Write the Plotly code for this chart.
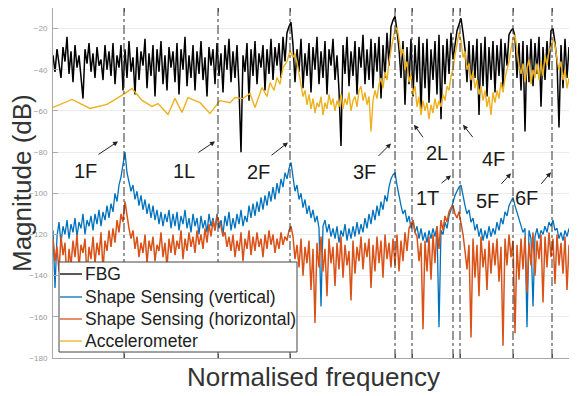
import numpy as np
import plotly.graph_objects as go

# ---------------- data ----------------
SERIES_NAMES = ["FBG", "Shape Sensing (vertical)", "Shape Sensing (horizontal)", "Accelerometer"]
BIN_STEP = 2  # spacing of the spectral bins (normalised frequency units)

FBG_DB = [
    -33, -41, -30, -38, -44, -29, -36, -24, -42, -31,
    -46, -28, -39, -33, -43, -54, -30, -37, -27, -41,
    -32, -44, -29, -38, -35, -45, -28, -40, -31, -43,
    -27, -47, -33, -39, -28, -50, -30, -44, -26, -41,
    -34, -52, -29, -45, -31, -38, -25, -49, -32, -43,
    -28, -53, -30, -41, -26, -47, -33, -50, -29, -39,
    -31, -46, -27, -52, -30, -40, -24, -48, -33, -44,
    -28, -50, -31, -42, -26, -45, -34, -53, -29, -38,
    -30, -47, -27, -43, -32, -51, -28, -40, -25, -46,
    -31, -44, -28, -49, -80, -33, -41, -27, -55, -30,
    -43, -26, -47, -32, -39, -28, -50, -30, -42, -25,
    -45, -29, -38, -27, -44, -24, -36, -22, -19, -17,
    -28, -46, -30, -41, -25, -49, -32, -43, -27, -51,
    -29, -40, -24, -47, -31, -44, -26, -52, -30, -38,
    -25, -45, -33, -50, -77, -28, -42, -24, -48, -31,
    -43, -26, -52, -29, -39, -23, -47, -30, -45, -25,
    -49, -27, -41, -24, -54, -28, -44, -22, -38, -19,
    -16, -14, -21, -30, -44, -26, -57, -29, -47, -25,
    -53, -28, -46, -24, -61, -27, -49, -25, -56, -30,
    -45, -26, -52, -23, -64, -28, -47, -25, -42, -22,
    -35, -27, -21, -18, -15, -22, -30, -46, -26, -50,
    -28, -44, -25, -62, -27, -48, -24, -53, -29, -45,
    -26, -51, -28, -43, -25, -49, -27, -38, -23, -21,
    -20, -24, -44, -27, -50, -26, -70, -28, -46, -25,
    -48, -27, -42, -24, -58, -29, -45, -26, -40, -21,
    -20, -27, -36, -68, -28, -49, -25, -44, -29, -47,
    -26, -43,
]

SSV_DB = [
    -118, -146, -121, -114, -124, -116, -120, -113, -122, -115,
    -119, -112, -121, -114, -117, -110, -120, -113, -116, -111,
    -118, -110, -115, -108, -116, -109, -113, -106, -112, -105,
    -109, -100, -104, -96, -92, -86, -80, -90, -94, -99,
    -96, -103, -99, -106, -101, -108, -103, -110, -105, -112,
    -106, -113, -108, -115, -109, -116, -110, -114, -108, -117,
    -110, -116, -109, -118, -111, -115, -108, -117, -112, -119,
    -110, -116, -112, -120, -111, -117, -113, -119, -110, -116,
    -112, -118, -110, -117, -113, -120, -111, -116, -109, -118,
    -112, -117, -110, -115, -108, -116, -111, -114, -106, -112,
    -105, -111, -104, -109, -102, -108, -101, -106, -99, -104,
    -97, -103, -95, -100, -93, -97, -90, -93, -88, -85,
    -92, -99, -96, -103, -100, -107, -103, -110, -106, -112,
    -108, -114, -111, -117, -155, -116, -113, -119, -115, -121,
    -117, -122, -116, -124, -118, -121, -115, -123, -117, -122,
    -116, -121, -114, -120, -115, -119, -112, -117, -110, -115,
    -108, -113, -106, -111, -104, -108, -101, -104, -97, -93,
    -91, -90, -96, -102, -106, -110, -108, -114, -111, -117,
    -113, -119, -116, -122, -117, -123, -119, -124, -118, -122,
    -117, -121, -116, -165, -118, -120, -114, -117, -111, -108,
    -104, -101, -99, -97, -96, -102, -106, -110, -108, -114,
    -112, -118, -115, -121, -117, -123, -118, -122, -116, -121,
    -117, -120, -114, -118, -112, -115, -109, -111, -106, -104,
    -102, -106, -109, -113, -116, -119, -117, -165, -118, -122,
    -155, -121, -117, -122, -118, -120, -116, -119, -114, -116,
    -113, -118, -117, -122, -119, -123, -118, -121, -117, -122,
    -119, -150,
]

SSH_DB = [
    -122, -133, -126, -138, -121, -130, -124, -144, -127, -135,
    -123, -131, -120, -136, -125, -129, -122, -140, -126, -132,
    -121, -134, -124, -130, -119, -137, -123, -128, -118, -126,
    -117, -124, -113, -119, -110, -114, -104, -112, -117, -122,
    -118, -127, -121, -131, -124, -129, -120, -134, -123, -128,
    -121, -133, -125, -128, -119, -131, -124, -136, -122, -129,
    -120, -130, -123, -127, -118, -132, -122, -128, -119, -126,
    -121, -129, -118, -125, -120, -127, -117, -124, -115, -121,
    -113, -118, -111, -114, -116, -121, -119, -126, -121, -128,
    -120, -131, -123, -128, -119, -133, -122, -127, -118, -130,
    -121, -128, -119, -126, -122, -131, -120, -127, -118, -125,
    -120, -129, -122, -127, -119, -125, -121, -123, -118, -116,
    -121, -132, -125, -136, -122, -140, -126, -134, -123, -147,
    -127, -163, -124, -136, -121, -138, -127, -150, -122, -134,
    -126, -145, -124, -137, -121, -141, -125, -135, -128, -152,
    -123, -139, -126, -133, -121, -137, -124, -131, -122, -146,
    -125, -138, -121, -134, -123, -141, -120, -132, -124, -136,
    -122, -135, -120, -138, -123, -133, -119, -128, -117, -115,
    -113, -119, -121, -133, -124, -166, -123, -138, -121, -142,
    -120, -134, -116, -127, -113, -118, -111, -114, -109, -107,
    -106, -110, -112, -109, -114, -120, -128, -137, -125, -170,
    -122, -141, -125, -150, -121, -136, -127, -147, -123, -139,
    -124, -135, -122, -143, -126, -174, -122, -135, -120, -131,
    -123, -168, -125, -142, -122, -137, -121, -148, -124, -135,
    -119, -140, -123, -132, -120, -153, -121, -136, -119, -131,
    -122, -144, -120, -135, -124, -139, -121, -147, -125, -136,
    -122, -138,
]

ACC_SPARSE_BIN = [0, 19, 37, 54, 72, 79, 89, 99, 105, 115, 122, 129, 135, 147, 157, 167, 177,
                  182, 190, 197, 202, 209, 214, 217, 221, 224, 227, 230, 234, 237, 240, 242, 245]
ACC_SPARSE_DB = [-58.3, -54.4, -58.8, -56.8, -51.5, -49.1, -54.9, -57.8, -56.4, -61.7, -53.9,
                 -60.7, -53.5, -56, -61.2, -55, -56, -53.5, -54, -51.5, -58.3, -48.6, -53, -46.2,
                 -50, -43.8, -47, -38.9, -36, -30.7, -34, -32.1, -38.9]
ACC_DENSE_START = 248
ACC_DENSE_DB = [
    -47, -53, -50, -57, -52, -59, -54, -61, -56, -58,
    -53, -62, -56, -59, -52, -57, -54, -60, -55, -58,
    -52, -59, -54, -57, -51, -60, -55, -53, -58, -50,
    -48, -55, -51, -57, -53, -70, -55, -50, -54, -47,
    -44, -49, -41, -45, -36, -30, -25, -21, -19.5, -25,
    -33, -30, -40, -36, -46, -42, -52, -48, -58, -53,
    -62, -55, -60, -56, -64, -57, -61, -54, -59, -55,
    -58, -52, -55, -48, -50, -43, -40, -33, -28, -22,
    -26, -34, -31, -40, -37, -45, -41, -49, -45, -52,
    -48, -55, -50, -58, -53, -62, -51, -56, -50, -54,
    -46, -51, -44, -40, -36, -30, -25, -23, -31, -38,
    -42, -37, -46, -39, -35, -47, -40, -44, -37, -45,
    -36, -43, -33, -38, -31, -29, -25, -28, -35, -40,
    -36, -45, -40, -49, -44, -53, -85, -47,
]

MODE_NAMES = ["1F", "1L", "2F", "3F", "2L", "1T", "4F", "5F", "6F"]
MODE_BINS = [71, 165, 237, 342, 359, 400, 407, 460, 499]
Y_TICKS = [-180, -160, -140, -120, -100, -80, -60, -40, -20]

# ---------------- build ----------------
dense_bins = np.arange(len(FBG_DB)) * BIN_STEP
acc_bins = ACC_SPARSE_BIN + list(range(ACC_DENSE_START,
                                       ACC_DENSE_START + BIN_STEP * len(ACC_DENSE_DB), BIN_STEP))
acc_db = ACC_SPARSE_DB + ACC_DENSE_DB

COLORS = ["#000000", "#0072BD", "#D95319", "#EDB120"]
WIDTHS = [1.5, 1.3, 1.5, 1.4]

fig = go.Figure()
fig.add_trace(go.Scatter(x=dense_bins, y=FBG_DB, mode="lines", name=SERIES_NAMES[0],
                         line=dict(color=COLORS[0], width=WIDTHS[0])))
fig.add_trace(go.Scatter(x=dense_bins[:len(SSV_DB)], y=SSV_DB, mode="lines", name=SERIES_NAMES[1],
                         line=dict(color=COLORS[1], width=WIDTHS[1])))
fig.add_trace(go.Scatter(x=dense_bins[:len(SSH_DB)], y=SSH_DB, mode="lines", name=SERIES_NAMES[2],
                         line=dict(color=COLORS[2], width=WIDTHS[2])))
fig.add_trace(go.Scatter(x=acc_bins, y=acc_db, mode="lines", name=SERIES_NAMES[3],
                         line=dict(color=COLORS[3], width=WIDTHS[3])))

# geometry helpers: positions given in pixels of the reference canvas
# (the page adds an 8 px body margin, so the figure is 8 px smaller)
OFF = 8
L, R, T, B = 53, 577, 8, 358
FIG_W, FIG_H = 577 - OFF, 396 - OFF
def px_x(px):
    return (px - L) / (R - L)
def px_y(py):
    return (B - py) / (B - T)

shapes = []
for mb in MODE_BINS:
    shapes.append(dict(type="line", xref="x", yref="paper", x0=mb, x1=mb, y0=0, y1=1,
                       line=dict(color="#333333", width=1, dash="dashdot"), layer="above"))
# legend box
shapes.append(dict(type="rect", xref="paper", yref="paper", x0=px_x(59), x1=px_x(297),
                   y0=px_y(352), y1=px_y(262), fillcolor="white",
                   line=dict(color="#444444", width=1), layer="above"))
LEG_Y = [274, 297, 319, 341]
annotations = []
for name, col, ly in zip(SERIES_NAMES, COLORS, LEG_Y):
    shapes.append(dict(type="line", xref="paper", yref="paper", x0=px_x(60), x1=px_x(82),
                       y0=px_y(ly), y1=px_y(ly), line=dict(color=col, width=1.3), layer="above"))
    annotations.append(dict(xref="paper", yref="paper", x=px_x(83), y=px_y(ly), text=name,
                            showarrow=False, xanchor="left", yanchor="middle",
                            font=dict(size=17.5, color="#222222")))

# mode labels and arrows
LABEL_POS = {"1F": (32, -89.3), "1L": (131, -89.3), "2F": (205, -89.8), "3F": (311, -89.8),
             "2L": (384, -80.6), "4F": (440, -83.5), "1T": (374, -102.4), "5F": (434, -103.9),
             "6F": (473, -102.4)}
ARROWS = {"1F": (65, -74.8, -21, 14), "1L": (162, -74.8, -18, 12), "2F": (235, -75.3, -18, 14),
          "3F": (338, -75.8, -14, 14), "2L": (361, -66.7, 10, 14), "4F": (410, -66.7, 11, 14),
          "1T": (398, -91.3, -11, 9), "5F": (458, -90.3, -11, 12), "6F": (498, -89.8, -11, 13)}
for nm in MODE_NAMES:
    lx, ly = LABEL_POS[nm]
    annotations.append(dict(x=lx, y=ly, xref="x", yref="y", text=nm, showarrow=False,
                            font=dict(size=20, color="#1a1a1a"), xanchor="center", yanchor="middle"))
    hx, hy, ax, ay = ARROWS[nm]
    annotations.append(dict(x=hx, y=hy, xref="x", yref="y", text="", showarrow=True,
                            ax=ax, ay=ay, arrowhead=2, arrowsize=1, arrowwidth=1,
                            arrowcolor="#222222"))

# axis titles
annotations.append(dict(xref="paper", yref="paper", x=px_x(313), y=px_y(377),
                        text="Normalised frequency", showarrow=False, xanchor="center",
                        yanchor="middle", font=dict(size=26, color="#333333")))
annotations.append(dict(xref="paper", yref="paper", x=px_x(22), y=px_y(183),
                        text="Magnitude (dB)", showarrow=False, textangle=-90, xanchor="center",
                        yanchor="middle", font=dict(size=26, color="#333333")))

fig.update_layout(
    width=FIG_W, height=FIG_H,
    margin=dict(l=L - OFF, r=0, t=T - OFF, b=FIG_H - (B - OFF), pad=0),
    plot_bgcolor="white", paper_bgcolor="white",
    showlegend=False,
    font=dict(family="Liberation Sans, Arial, sans-serif"),
    shapes=shapes, annotations=annotations,
    xaxis=dict(range=[0, R - L], showgrid=False, zeroline=False, tickvals=MODE_BINS,
               ticks="inside", ticklen=4, tickcolor="#777777", showticklabels=False,
               showline=True, linecolor="#a8a8a8", linewidth=1, mirror="ticks"),
    yaxis=dict(range=[-180, -10], tickvals=Y_TICKS, ticks="inside", ticklen=5,
               tickcolor="#aaaaaa", showgrid=True,
               gridcolor="#ebebeb", gridwidth=1, zeroline=False, showline=True,
               linecolor="#a8a8a8", linewidth=1, mirror="ticks",
               tickfont=dict(size=8, color="#9a9a9a"), ticklabelstandoff=3),
)

fig.write_html("out.html")
